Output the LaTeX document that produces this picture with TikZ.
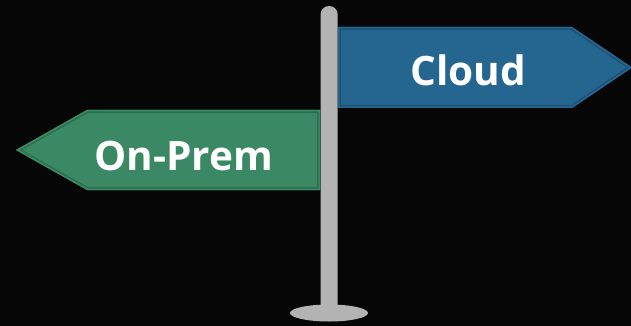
\documentclass[tikz,border=0pt]{standalone}
\usepackage{fontspec}
\setmainfont{Open Sans}
\definecolor{bg}{RGB}{6,6,6}
\definecolor{polegrey}{RGB}{179,179,179}
\definecolor{cloudfill}{RGB}{36,102,144}
\definecolor{cloudline}{RGB}{29,82,118}
\definecolor{premfill}{RGB}{58,136,100}
\definecolor{premline}{RGB}{46,110,80}

\begin{document}
\begin{tikzpicture}[x=1pt,y=-1pt,
  signtext/.style={text=white,anchor=base,inner sep=0pt,
    font=\fontsize{40.5}{40.5}\selectfont\bfseries}]
  \fill[bg] (0,0) rectangle (631,326);
  \useasboundingbox (0,0) rectangle (631,326);

  % pole and foot
  \fill[polegrey] (329,313) coordinate (foot) ellipse (39 and 8.5);
  \fill[polegrey,rounded corners=8.5pt] (320.5,313) -- (320.5,6)
    -- (337.7,6) -- (337.7,313) -- cycle;

  % cloud sign
  \begin{scope}
    \path (338,27) coordinate (c1) -- (572,27) coordinate (c2)
      -- (632,67.5) coordinate (c3) -- (572,108) coordinate (c4)
      -- (338,108) coordinate (c5);
    \clip (c1) -- (c2) -- (c3) -- (c4) -- (c5) -- cycle;
    \fill[cloudfill] (0,0) rectangle (631,326);
    \draw[cloudline,line width=6pt] (c1) -- (c2) -- (c3) -- (c4) -- (c5) -- cycle;
    \draw[cloudfill,line width=3pt] (c1) -- (c2) -- (c3) -- (c4) -- (c5) -- cycle;
  \end{scope}

  % on-prem sign
  \begin{scope}
    \path (320,110) coordinate (p1) -- (87,110) coordinate (p2)
      -- (16,150) coordinate (p3) -- (87,190) coordinate (p4)
      -- (320,190) coordinate (p5);
    \clip (p1) -- (p2) -- (p3) -- (p4) -- (p5) -- cycle;
    \fill[premfill] (0,0) rectangle (631,326);
    \draw[premline,line width=6pt] (p1) -- (p2) -- (p3) -- (p4) -- (p5) -- cycle;
    \draw[premfill,line width=3pt] (p1) -- (p2) -- (p3) -- (p4) -- (p5) -- cycle;
  \end{scope}

  \node[signtext] (cloud) at (468.5,85.5) {Cloud};
  \node[signtext] (onprem) at (183.5,170) {On-Prem};
\end{tikzpicture}
\end{document}
